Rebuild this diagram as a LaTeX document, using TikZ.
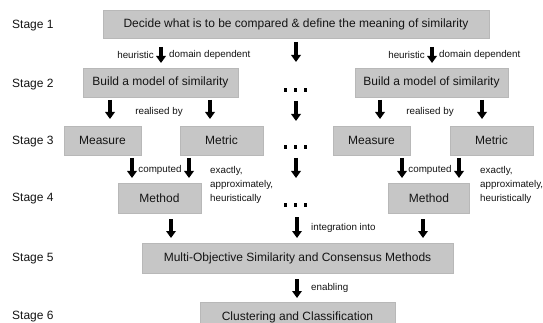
\documentclass[tikz,border=0pt]{standalone}
\usepackage{fontspec}
\setmainfont{Liberation Sans}
\usetikzlibrary{arrows.meta}
\definecolor{boxgray}{RGB}{198,198,198}
\definecolor{boxedge}{RGB}{184,184,184}
\definecolor{ink}{RGB}{20,20,20}
\tikzset{
  box/.style={draw=boxedge, line width=0.6pt, fill=boxgray, inner sep=0pt, outer sep=0pt, minimum height=29pt, text=ink, font=\fontsize{12}{14}\selectfont},
  stagelbl/.style={anchor=west, inner sep=0pt, text=ink, font=\fontsize{12}{14}\selectfont},
  small/.style={inner sep=0pt, text=ink, font=\fontsize{9.8}{12}\selectfont},
  bigarrow/.style={line width=3.7pt, draw=black, -{Triangle[width=9.5pt,length=7pt]}},
  dotsq/.style={fill=black, inner sep=0pt, minimum size=3.4pt, draw=none}
}
\begin{document}
\begin{tikzpicture}[x=1pt,y=-1pt]
\useasboundingbox (0,0) rectangle (543,323);
\clip (0,0) rectangle (543,323);
\fill[white] (0,0) rectangle (543,323);

% stage labels
\node[stagelbl] (st1) at (12,26) {Stage 1};
\node[stagelbl] (st2) at (12,85) {Stage 2};
\node[stagelbl] (st3) at (12,142) {Stage 3};
\node[stagelbl] (st4) at (12,199) {Stage 4};
\node[stagelbl] (st5) at (12,259) {Stage 5};
\node[stagelbl] (st6) at (12,317) {Stage 6};

% boxes
\node[box, minimum width=386pt, minimum height=28pt] (b1) at (296,24) {Decide what is to be compared \& define the meaning of similarity};
\node[box, minimum width=155pt] (b2l) at (160.5,82.5) {Build a model of similarity};
\node[box, minimum width=153pt] (b2r) at (431.5,82.5) {Build a model of similarity};
\node[box, minimum width=77pt] (measl) at (102.5,140.5) {Measure};
\node[box, minimum width=83pt] (metl) at (221.5,140.5) {Metric};
\node[box, minimum width=77pt] (measr) at (371.5,140.5) {Measure};
\node[box, minimum width=83pt] (metr) at (491.5,140.5) {Metric};
\node[box, minimum width=83pt, minimum height=30pt] (methl) at (159.5,198) {Method};
\node[box, minimum width=81pt, minimum height=30pt] (methr) at (429,198) {Method};
\node[box, minimum width=311pt, minimum height=30pt] (b5) at (297.5,258) {Multi-Objective Similarity and Consensus Methods};
\node[box, minimum width=195pt, minimum height=30pt] (b6) at (297.5,317) {Clustering and Classification};

% arrow end points
\coordinate (h1a) at (161,47); \coordinate (h1b) at (161,63);
\coordinate (h2a) at (432,47); \coordinate (h2b) at (432,63);
\coordinate (m1a) at (296,42); \coordinate (m1b) at (296,62);
\coordinate (m2a) at (296,101); \coordinate (m2b) at (296,121);
\coordinate (m3a) at (296,158); \coordinate (m3b) at (296,178);
\coordinate (m4a) at (297,217); \coordinate (m4b) at (297,238);
\coordinate (r1a) at (110,100); \coordinate (r1b) at (110,119);
\coordinate (r2a) at (210,100); \coordinate (r2b) at (210,119);
\coordinate (r3a) at (380,100); \coordinate (r3b) at (380,119);
\coordinate (r4a) at (482,100); \coordinate (r4b) at (482,119);
\coordinate (c1a) at (132,158); \coordinate (c1b) at (132,178);
\coordinate (c2a) at (189,158); \coordinate (c2b) at (189,178);
\coordinate (c3a) at (402,158); \coordinate (c3b) at (402,178);
\coordinate (c4a) at (459,158); \coordinate (c4b) at (459,178);
\coordinate (i1a) at (171,219); \coordinate (i1b) at (171,238);
\coordinate (i3a) at (423,219); \coordinate (i3b) at (423,238);
\coordinate (e1a) at (297,279); \coordinate (e1b) at (297,298);

\foreach \p in {h1,h2,m1,m2,m3,m4,r1,r2,r3,r4,c1,c2,c3,c4,i1,i3,e1}
  \draw[bigarrow] (\p a) -- (\p b);

% dots
\foreach \yy/\n in {90/a,147/b,205/c}{
  \node[dotsq] (d1\n) at (285.5,\yy) {};
  \node[dotsq] (d2\n) at (295.5,\yy) {};
  \node[dotsq] (d3\n) at (305.5,\yy) {};
}

% small labels
\node[small, anchor=east] (lh1) at (154,55) {heuristic};
\node[small, anchor=west] (ld1) at (169,55) {domain dependent};
\node[small, anchor=east] (lh2) at (425,55) {heuristic};
\node[small, anchor=west] (ld2) at (439,55) {domain dependent};
\node[small] (lr1) at (159,112) {realised by};
\node[small] (lr2) at (430,112) {realised by};
\node[small] (lc1) at (160,170) {computed};
\node[small] (lc2) at (430,170) {computed};
\node[small, anchor=north west, align=left, font=\fontsize{9.8}{14}\selectfont] (lx1) at (210,166) {exactly,\\approximately,\\heuristically};
\node[small, anchor=north west, align=left, font=\fontsize{9.8}{14}\selectfont] (lx2) at (480,166) {exactly,\\approximately,\\heuristically};
\node[small, anchor=west] (li) at (311,228) {integration into};
\node[small, anchor=west] (le) at (311,288) {enabling};
\end{tikzpicture}
\end{document}
